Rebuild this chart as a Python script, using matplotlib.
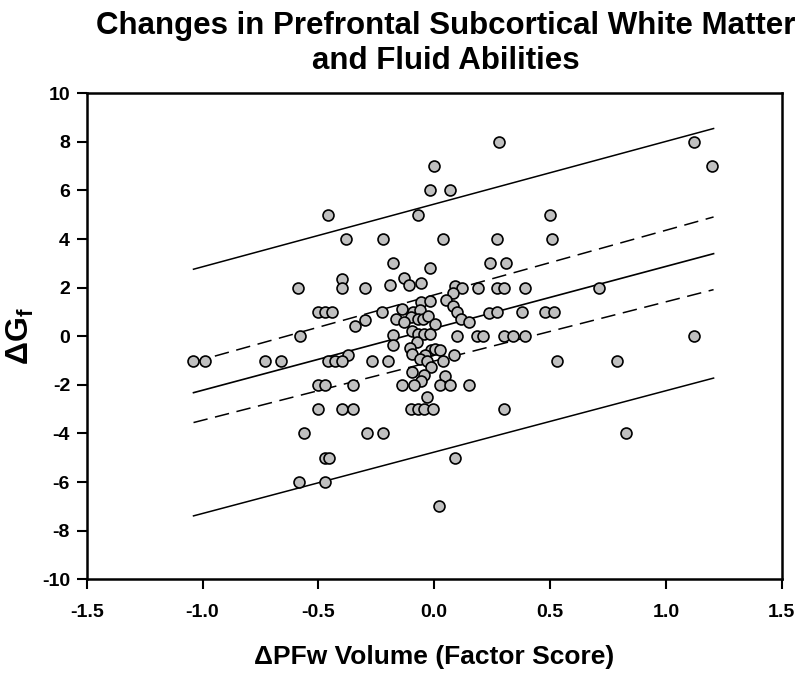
import numpy as np
import matplotlib
matplotlib.use("Agg")
import matplotlib.pyplot as plt

plt.rcParams["font.family"] = ["Liberation Sans", "DejaVu Sans"]
plt.rcParams["font.weight"] = "bold"
plt.rcParams["mathtext.fontset"] = "custom"
plt.rcParams["mathtext.rm"] = "Liberation Sans:bold"
plt.rcParams["mathtext.bf"] = "Liberation Sans:bold"
plt.rcParams["mathtext.it"] = "Liberation Sans:bold:italic"

# change in PFw volume (factor score) and change in Gf
pfw = [0.28, 1.12, 0.00, 1.20, -0.02, 0.07, -0.46, -0.07, 0.50,
       -0.38, -0.22, 0.04, 0.27, 0.51, -0.18, 0.24, 0.31, -0.02,
       -0.40, -0.13, -0.59, -0.40, -0.30, -0.19, -0.11, -0.055, 0.09, 0.12,
       0.08, 0.19, 0.27, 0.30, 0.39, 0.71,
       -0.055, -0.02, 0.05, 0.08,
       -0.50, -0.47, -0.44, -0.225, -0.14, -0.09, -0.06, 0.10, 0.235, 0.27,
       0.38, 0.48, 0.515,
       -0.165, -0.10, -0.13, -0.07, -0.05, -0.025, 0.004, 0.115, 0.152,
       -0.30, -0.34,
       -0.58, -0.18, -0.096, -0.068, -0.046, -0.017, 0.10, 0.185, 0.21,
       0.30, 0.34, 0.39, 1.12,
       -0.176, -0.075, -0.104, -0.015, 0.005, 0.025,
       -0.37, -0.096, -0.04, 0.085,
       -1.04, -0.99, -0.73, -0.66, -0.46, -0.43, -0.40, -0.27, -0.20,
       -0.06, -0.032, 0.04, 0.53, 0.79,
       -0.012, -0.094, -0.046, 0.047, -0.055,
       -0.50, -0.47, -0.35, -0.14, -0.086, 0.026, 0.07, 0.15,
       -0.03,
       -0.50, -0.40, -0.35, -0.10, -0.07, -0.046, -0.007, 0.30,
       -0.56, -0.29, -0.22, 0.83,
       -0.47, -0.455, 0.09,
       -0.585, -0.47,
       0.02]
gf = [8, 8, 7, 7, 6, 6, 5, 5, 5,
      4, 4, 4, 4, 4, 3, 3, 3, 2.8,
      2.35, 2.4, 2, 2, 2, 2.1, 2.1, 2.2, 2.05, 2.0,
      1.8, 2, 2, 2, 2, 2,
      1.4, 1.45, 1.5, 1.23,
      1, 1, 1, 1, 1.12, 1.0, 1.07, 1.0, 0.97, 1,
      1, 1, 1,
      0.72, 0.78, 0.59, 0.70, 0.72, 0.82, 0.52, 0.72, 0.59,
      0.68, 0.42,
      0, 0.07, 0.21, 0.11, 0.11, 0.11, 0, 0, 0,
      0, 0, 0, 0,
      -0.37, -0.25, -0.5, -0.57, -0.52, -0.55,
      -0.78, -0.73, -0.75, -0.75,
      -1, -1, -1, -1, -1, -1, -1, -1, -1,
      -0.93, -1, -1, -1, -1,
      -1.25, -1.47, -1.61, -1.63, -1.82,
      -2, -2, -2, -2, -2, -2, -2, -2,
      -2.5,
      -3, -3, -3, -3, -3, -3, -3, -3,
      -4, -4, -4, -4,
      -5, -5, -5,
      -6, -6,
      -7]

fit_x = [-1.039, 1.206]
fit_y = [-2.32, 3.40]
conf_hi = [-1.06, 4.91]
conf_lo = [-3.55, 1.92]
pred_hi = [2.76, 8.55]
pred_lo = [-7.39, -1.72]

fig = plt.figure(figsize=(8, 6.74), dpi=100)
ax = fig.add_axes([0.1084, 0.1405, 0.8687, 0.7211])

ax.plot(fit_x, fit_y, color="black", lw=1.2, zorder=2)
ax.plot(fit_x, conf_hi, color="black", lw=1.1, ls=(0, (9.5, 5)), zorder=2)
ax.plot(fit_x, conf_lo, color="black", lw=1.1, ls=(0, (9.5, 5)), zorder=2)
ax.plot(fit_x, pred_hi, color="black", lw=1.1, zorder=2)
ax.plot(fit_x, pred_lo, color="black", lw=1.1, zorder=2)

ax.scatter(pfw, gf, s=62, facecolor="#c0c0c0", edgecolor="black",
           linewidth=1.2, zorder=3)

ax.set_xlim(-1.5, 1.5)
ax.set_ylim(-10, 10)
ax.set_xticks(np.arange(-1.5, 1.51, 0.5))
ax.set_yticks(np.arange(-10, 11, 2))
ax.set_xticklabels(["-1.5", "-1.0", "-0.5", "0.0", "0.5", "1.0", "1.5"])
ax.set_yticklabels([str(v) for v in range(-10, 11, 2)])
ax.tick_params(axis="both", direction="out", length=7, width=1.5,
               labelsize=14, top=False, right=False)
ax.tick_params(axis="x", pad=11)
ax.tick_params(axis="y", pad=5)
for lab in ax.get_xticklabels() + ax.get_yticklabels():
    lab.set_fontweight("bold")
for sp in ax.spines.values():
    sp.set_linewidth(1.8)

ax.set_xlabel("ΔPFw Volume (Factor Score)", fontsize=19, fontweight="bold",
              va="center")
ax.xaxis.set_label_coords(0.5, -0.16)
ax.set_ylabel(r"ΔG$_{\mathbf{f}}$", fontsize=23, fontweight="bold",
              va="center")
ax.yaxis.set_label_coords(-0.096, 0.5)

fig.text(0.5575, 1 - 43.5 / 674,
         "Changes in Prefrontal Subcortical White Matter\nand Fluid Abilities",
         ha="center", va="center", fontsize=22.5, fontweight="bold",
         linespacing=1.18)

fig.savefig("out.png", dpi=100)
